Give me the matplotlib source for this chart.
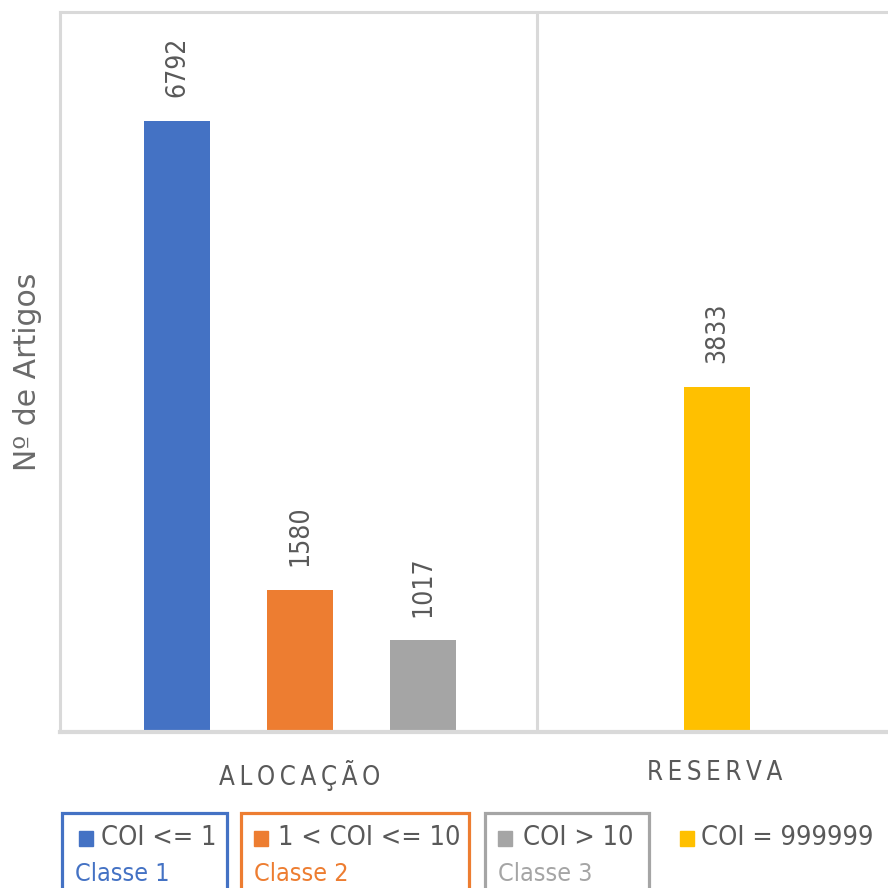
import matplotlib.pyplot as plt
from matplotlib.patches import Rectangle
from matplotlib import font_manager

# article counts per COI class
series = ["COI <= 1", "1 < COI <= 10", "COI > 10", "COI = 999999"]
classes = ["Classe 1", "Classe 2", "Classe 3", ""]
values = [6792, 1580, 1017, 3833]
bar_x = [0, 1, 2, 4.39]
groups = ["ALOCAÇÃO", "RESERVA"]
group_x = [1, 4.37]
colors = ["#4472C4", "#ED7D31", "#A5A5A5", "#FFC000"]

# look for a narrow face, fall back to plain DejaVu Sans
narrow = None
for key in ["LiberationSansNarrow-Regular", "DejaVuSansCondensed.ttf",
            "RobotoCondensed-Regular", "OpenSans_Condensed-Regular"]:
    for f in font_manager.fontManager.ttflist:
        if key in f.fname:
            narrow = f.fname
            break
    if narrow:
        break
if narrow:
    fp = font_manager.FontProperties(fname=narrow)
    scale = 1.0
else:
    fp = font_manager.FontProperties(family="DejaVu Sans")
    scale = 0.85

txt = "#595959"
grid = "#D9D9D9"

fig = plt.figure(figsize=(8.88, 8.88), dpi=100)
ax = fig.add_axes([60 / 888, 156 / 888, 828 / 888, 720 / 888])

ax.bar(bar_x, values, width=0.54, color=colors, zorder=2)
for x, v in zip(bar_x, values):
    ax.annotate(str(v), (x, v), xytext=(0, 17), textcoords="offset points",
                rotation=90, ha="center", va="bottom", color=txt,
                fontproperties=fp, fontsize=19 * scale)

ax.set_ylim(0, 8000)
ax.set_xlim(-0.95, 5.78)
ax.axvline(2.93, color=grid, lw=2.2, zorder=1)

ax.set_yticks([])
ax.set_xticks(group_x)
ax.set_xticklabels(["\u2009".join(g) for g in groups], color=txt,
                   fontproperties=fp, fontsize=18.5)
ax.tick_params(axis="x", length=0, pad=20)
ax.set_ylabel("Nº de Artigos", color="#6a6a6a", fontsize=21.5, labelpad=13,
              family="DejaVu Sans")

ax.spines["right"].set_visible(False)
for s in ["top", "left"]:
    ax.spines[s].set_color(grid)
    ax.spines[s].set_linewidth(2.2)
ax.spines["bottom"].set_color(grid)
ax.spines["bottom"].set_linewidth(3)

# legend built as boxed entries below the axes
W = H = 888.0
boxes = [(62, 227), (241, 469), (485, 649), None]
text_x = [101, 278, 523, 701]
sq_x = [79, 254, 498, 680]
for i in range(4):
    if boxes[i] is not None:
        x0, x1 = boxes[i]
        fig.patches.append(Rectangle((x0 / W, -0.02), (x1 - x0) / W, (888 - 813) / H + 0.02,
                                     transform=fig.transFigure, fill=False,
                                     edgecolor=colors[i], lw=2.3))
    fig.patches.append(Rectangle((sq_x[i] / W, (888 - 846) / H), 14 / W, 15 / H,
                                 transform=fig.transFigure, color=colors[i]))
    fig.text(text_x[i] / W, (888 - 838) / H, series[i], color=txt,
             fontproperties=fp, fontsize=19.5 * scale, va="center", ha="left")
    if classes[i]:
        fig.text((x0 + 13) / W, (888 - 874) / H, classes[i], color=colors[i],
                 fontproperties=fp, fontsize=18 * scale, va="center", ha="left")

fig.savefig("out.png", dpi=100)
